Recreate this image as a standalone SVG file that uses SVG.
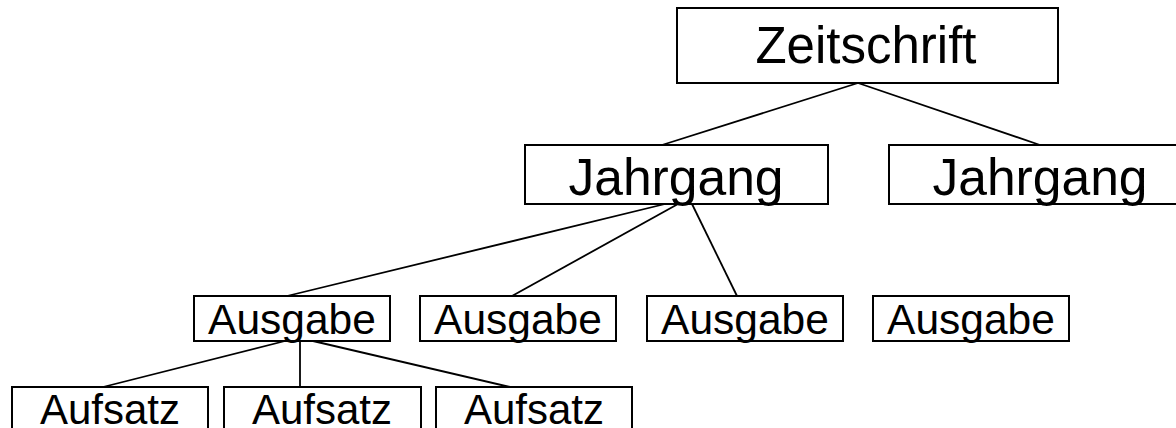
<svg xmlns="http://www.w3.org/2000/svg" width="1176" height="428" viewBox="0 0 1176 428">
<style>
.box{fill:#fff;stroke:#000;stroke-width:2}
.lbl{font-family:"Liberation Sans",Arial,sans-serif;fill:#000;text-anchor:middle}
.l1{font-size:51px}
.l2{font-size:51.6px}
.l3{font-size:42.5px}
.l4{font-size:42px}
.con line{stroke:#000;stroke-width:1.8}
</style>
<rect width="1176" height="428" fill="#fff"/>
<g id="connectors" class="con">
<line x1="858" y1="83" x2="662" y2="145"/>
<line x1="858" y1="83" x2="1040" y2="145"/>
<line x1="665" y1="204" x2="287" y2="296"/>
<line x1="678" y1="204" x2="512" y2="296"/>
<line x1="692" y1="204" x2="737" y2="296"/>
<line x1="285" y1="341" x2="103" y2="387"/>
<line x1="300" y1="341" x2="300" y2="387"/>
<line x1="313" y1="341" x2="510" y2="387"/>
</g>
<g id="zeitschrift"><rect class="box" x="677" y="8" width="381" height="75"/><text class="lbl l1" x="866" y="63">Zeitschrift</text></g>
<g id="jahrgang1"><rect class="box" x="525" y="145" width="303" height="59"/><text class="lbl l2" x="676" y="195">Jahrgang</text></g>
<g id="jahrgang2"><rect class="box" x="889" y="145" width="303" height="59"/><text class="lbl l2" x="1040" y="195">Jahrgang</text></g>
<g id="ausgabe1"><rect class="box" x="194" y="296" width="196" height="45"/><text class="lbl l3" x="292" y="334">Ausgabe</text></g>
<g id="ausgabe2"><rect class="box" x="420" y="296" width="196" height="45"/><text class="lbl l3" x="518" y="334">Ausgabe</text></g>
<g id="ausgabe3"><rect class="box" x="647" y="296" width="196" height="45"/><text class="lbl l3" x="745" y="334">Ausgabe</text></g>
<g id="ausgabe4"><rect class="box" x="873" y="296" width="196" height="45"/><text class="lbl l3" x="971" y="334">Ausgabe</text></g>
<g id="aufsatz1"><rect class="box" x="12" y="387" width="196" height="60"/><text class="lbl l4" x="110" y="424">Aufsatz</text></g>
<g id="aufsatz2"><rect class="box" x="224" y="387" width="197" height="60"/><text class="lbl l4" x="322" y="424">Aufsatz</text></g>
<g id="aufsatz3"><rect class="box" x="436" y="387" width="196" height="60"/><text class="lbl l4" x="534" y="424">Aufsatz</text></g>
</svg>
